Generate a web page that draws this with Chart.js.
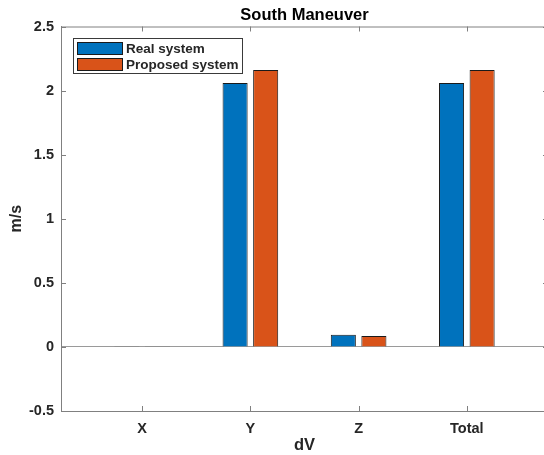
<!DOCTYPE html>
<html>
<head>
<meta charset="utf-8">
<script src="https://cdn.jsdelivr.net/npm/chart.js@4"></script>
<style>
  html, body { margin: 0; padding: 0; overflow: hidden; background: #fff; }
  canvas { display: block; }
</style>
</head>
<body>
<canvas id="dvChart" width="548" height="455"></canvas>
<script>
// Data
const categories = ['X', 'Y', 'Z', 'Total'];
const positions = [1, 2, 3, 4];
const realSystem = [0.001, 2.06, 0.094, 2.06];
const proposedSystem = [0.001, 2.16, 0.086, 2.16];
const yTicks = [-0.5, 0, 0.5, 1, 1.5, 2, 2.5];

const FONT = '"Liberation Sans", Arial, Helvetica, sans-serif';
const TEXT = '#262626';
const AXIS = '#808080';

function points(values) {
    return values.map((v, i) => ({ x: positions[i], y: v }));
}

// MATLAB-style box: top/right lines, inward ticks, legend inside the axes
const matlabAxes = {
    id: 'matlabAxes',
    afterDraw(chart) {
        const { ctx, chartArea: a, scales } = chart;
        ctx.save();
        ctx.strokeStyle = AXIS;
        ctx.lineWidth = 1;
        ctx.beginPath();
        ctx.moveTo(a.left, a.top + 0.5);
        ctx.lineTo(a.right, a.top + 0.5);
        ctx.moveTo(a.right - 0.5, a.top);
        ctx.lineTo(a.right - 0.5, a.bottom);
        scales.x.ticks.forEach(t => {
            const px = Math.round(scales.x.getPixelForValue(t.value)) + 0.5;
            ctx.moveTo(px, a.bottom);
            ctx.lineTo(px, a.bottom - 5);
            ctx.moveTo(px, a.top);
            ctx.lineTo(px, a.top + 5);
        });
        scales.y.ticks.forEach(t => {
            const py = Math.round(scales.y.getPixelForValue(t.value)) + 0.5;
            ctx.moveTo(a.left, py);
            ctx.lineTo(a.left + 5, py);
            ctx.moveTo(a.right, py);
            ctx.lineTo(a.right - 5, py);
        });
        ctx.stroke();

        // legend
        const bx = 73.5, by = 38.5, bw = 169, bh = 35;
        ctx.fillStyle = '#fff';
        ctx.fillRect(bx, by, bw, bh);
        ctx.strokeStyle = '#3a3a3a';
        ctx.strokeRect(bx, by, bw, bh);
        ctx.font = 'bold 13.5px ' + FONT;
        ctx.textBaseline = 'middle';
        chart.data.datasets.forEach((ds, i) => {
            const ry = 42.5 + i * 16;
            ctx.fillStyle = ds.backgroundColor;
            ctx.fillRect(77.5, ry, 45, 12);
            ctx.strokeStyle = '#1a1a1a';
            ctx.strokeRect(77.5, ry, 45, 12);
            ctx.fillStyle = TEXT;
            ctx.fillText(ds.label, 126, ry + 6.5);
        });
        ctx.restore();
    }
};

new Chart(document.getElementById('dvChart'), {
    type: 'bar',
    data: {
        datasets: [
            {
                label: 'Real system',
                data: points(realSystem),
                backgroundColor: '#0072BD',
                borderColor: '#1a1a1a',
                borderWidth: 1
            },
            {
                label: 'Proposed system',
                data: points(proposedSystem),
                backgroundColor: '#D95319',
                borderColor: '#1a1a1a',
                borderWidth: 1
            }
        ]
    },
    options: {
        responsive: false,
        animation: false,
        categoryPercentage: 0.565,
        barPercentage: 0.82,
        layout: { padding: 0 },
        scales: {
            x: {
                type: 'linear',
                min: 0.25,
                max: 4.75,
                offset: false,
                afterBuildTicks: s => { s.ticks = positions.map(v => ({ value: v })); },
                afterFit: s => { s.height = 44; },
                grid: { display: false, offset: false },
                border: { display: true, color: AXIS },
                ticks: {
                    padding: 1,
                    maxRotation: 0,
                    autoSkip: false,
                    color: TEXT,
                    font: { family: FONT, size: 14.5, weight: 'bold' },
                    callback: v => categories[positions.indexOf(v)]
                },
                title: {
                    display: true,
                    text: 'dV',
                    color: TEXT,
                    padding: { top: 0, bottom: 0 },
                    font: { family: FONT, size: 16.5, weight: 'bold' }
                }
            },
            y: {
                min: -0.5,
                max: 2.5,
                afterBuildTicks: s => { s.ticks = yTicks.map(v => ({ value: v })); },
                afterFit: s => { s.width = 61; },
                grid: {
                    drawTicks: false,
                    color: c => c.tick && c.tick.value === 0 ? '#9a9a9a' : 'rgba(0,0,0,0)'
                },
                border: { display: true, color: AXIS },
                ticks: {
                    padding: 7,
                    color: TEXT,
                    font: { family: FONT, size: 14.5, weight: 'bold' },
                    callback: v => String(v)
                },
                title: {
                    display: true,
                    text: 'm/s',
                    color: TEXT,
                    padding: { top: 7, bottom: 0 },
                    font: { family: FONT, size: 16, weight: 'bold' }
                }
            }
        },
        plugins: {
            legend: { display: false },
            tooltip: { enabled: false },
            title: {
                display: true,
                fullSize: false,
                text: 'South Maneuver',
                color: '#000',
                padding: { top: 5.5, bottom: 1.2 },
                font: { family: FONT, size: 16.5, weight: 'bold' }
            }
        }
    },
    plugins: [matlabAxes]
});
</script>
</body>
</html>
